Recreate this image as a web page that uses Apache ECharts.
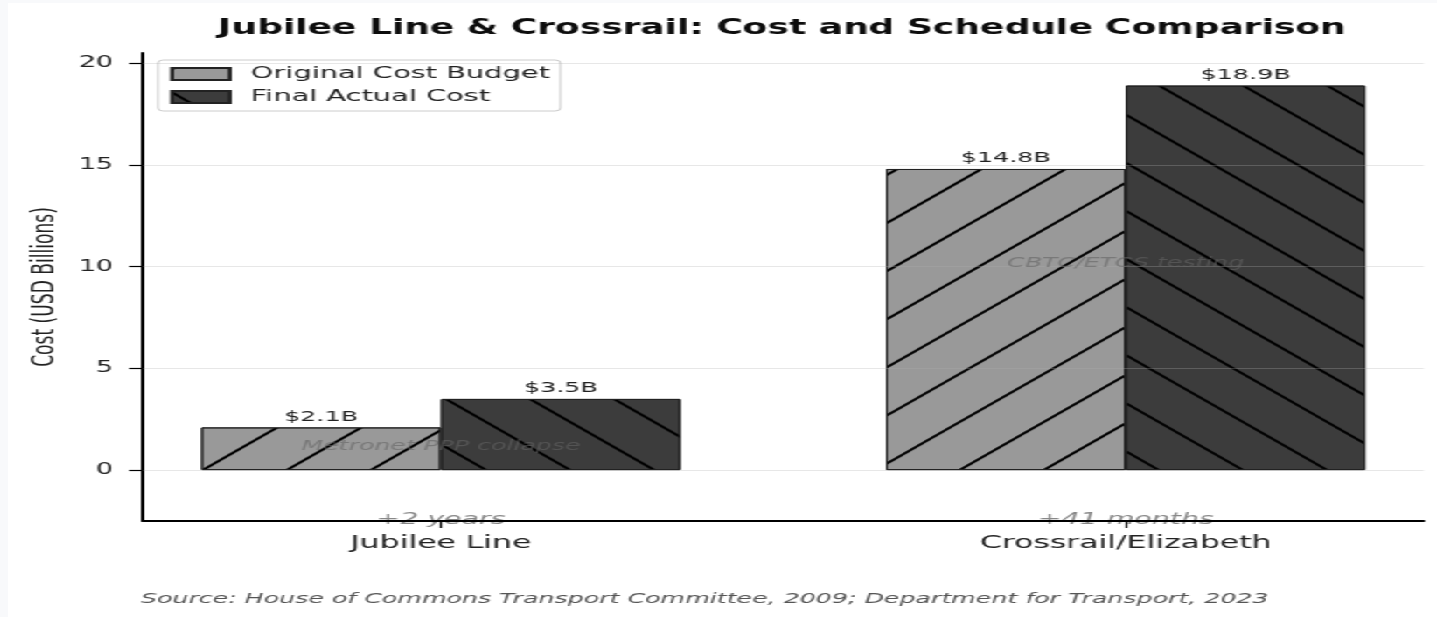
<!DOCTYPE html>
<html>
<head>
<meta charset="utf-8">
<script src="https://cdn.jsdelivr.net/npm/echarts@6/dist/echarts.min.js"></script>
<style>
  html, body { margin: 0; padding: 0; background: #f8f9fb; overflow: hidden; }
  #wrap { position: absolute; left: 8px; top: 3px; width: 817px; height: 614px;
          transform: scaleX(1.749); transform-origin: 0 0; background: #ffffff; }
  #chart { width: 817px; height: 614px; }
</style>
</head>
<body>
<div id="wrap"><div id="chart"></div></div>
<script>
// ---- data ----
const categories = ['Jubilee Line', 'Crossrail/Elizabeth'];
const originalBudget = [2.1, 14.8];
const finalCost = [3.5, 18.9];
const causeNotes = ['Metronet PPP collapse', 'CBTC/ETCS testing'];
const causeNoteY = [1.15, 10.15];
const delayNotes = ['+2 years', '+41 months'];
const delayNoteY = [-2.45, -2.45];
const yTicks = [0, 5, 10, 15, 20];
const seriesNames = ['Original Cost Budget', 'Final Actual Cost'];
const sourceText = 'Source: House of Commons Transport Committee, 2009; Department for Transport, 2023';
const titleText = 'Jubilee Line & Crossrail: Cost and Schedule Comparison';

// ---- layout ----
const W = 817, H = 614;
const FONT = '"DejaVu Sans", "Noto Sans", sans-serif';
const gridLeft = 77.2, gridRight = 7.6, gridTop = 50, gridBottom = 96;
const xMin = -0.435, xMax = 1.435;
const unitPx = (W - gridLeft - gridRight) / (xMax - xMin);
const barW = 0.35 * unitPx;

const hatch = (rot) => ({
  symbol: 'rect', symbolSize: 1, dashArrayX: [1, 0], dashArrayY: [1.6, 31.6],
  rotation: rot, color: '#000000'
});

const valueLabel = {
  show: true, position: 'top', distance: 3,
  fontFamily: FONT, fontSize: 14.5, color: '#222222',
  formatter: (p) => '$' + p.value[1].toFixed(1) + 'B'
};

const chart = echarts.init(document.getElementById('chart'), null, { renderer: 'canvas', devicePixelRatio: 1 });

chart.setOption({
  animation: false,
  backgroundColor: '#ffffff',
  textStyle: { fontFamily: FONT },
  grid: { left: gridLeft, right: gridRight, top: gridTop, bottom: gridBottom, containLabel: false },
  legend: {
    data: seriesNames,
    orient: 'vertical',
    left: 85.8, top: 57,
    padding: [5, 6, 5, 7],
    itemGap: 5, itemWidth: 33, itemHeight: 12,
    icon: 'rect',
    backgroundColor: 'rgba(255,255,255,0.8)',
    borderColor: '#cccccc', borderWidth: 1, borderRadius: 3,
    textStyle: { fontFamily: FONT, fontSize: 16.5, color: '#222222', lineHeight: 18, padding: [0, 0, 0, 7] }
  },
  xAxis: {
    type: 'value', min: xMin, max: xMax, z: 10,
    axisLine: { show: true, onZero: false, lineStyle: { color: '#000000', width: 2 } },
    axisTick: { show: true, customValues: [0, 1], length: 7, lineStyle: { color: '#000000', width: 1.2 } },
    axisLabel: {
      customValues: [0, 1], margin: 13, fontFamily: FONT, fontSize: 18, color: '#222222',
      formatter: (v) => categories[Math.round(v)]
    },
    splitLine: { show: false }
  },
  yAxis: {
    type: 'value', min: -2.5, max: 20.5,
    name: 'Cost (USD Billions)', nameLocation: 'middle', nameGap: 44,
    nameTextStyle: { fontFamily: FONT, fontSize: 17.1, color: '#222222' },
    axisLine: { show: true, onZero: false, lineStyle: { color: '#000000', width: 2 } },
    axisTick: { show: true, customValues: yTicks, length: 8, lineStyle: { color: '#000000', width: 1.2 } },
    axisLabel: { customValues: yTicks, margin: 17, fontFamily: FONT, fontSize: 15.5, color: '#222222' },
    splitLine: { show: false }
  },
  series: [
    {
      name: seriesNames[0], type: 'bar', barWidth: barW, barGap: '0%',
      data: categories.map((c, i) => [i, originalBudget[i]]),
      itemStyle: { color: '#999999', borderColor: '#222222', borderWidth: 1, decal: hatch(-Math.PI / 4) },
      label: valueLabel
    },
    {
      name: seriesNames[1], type: 'bar', barWidth: barW, barGap: '0%',
      data: categories.map((c, i) => [i, finalCost[i]]),
      itemStyle: { color: '#3c3c3c', borderColor: '#222222', borderWidth: 1, decal: hatch(Math.PI / 4) },
      label: valueLabel
    },
    {
      type: 'line', data: [], z: 4, silent: true,
      markLine: {
        silent: true, symbol: 'none', animation: false,
        label: { show: false },
        lineStyle: { color: 'rgba(176,176,176,0.3)', type: 'solid', width: 1 },
        data: yTicks.map((v) => ({ yAxis: v }))
      }
    },
    {
      type: 'scatter', z: 6, silent: true, symbolSize: 0.1,
      itemStyle: { color: 'transparent' },
      data: categories.map((c, i) => [i, causeNoteY[i], causeNotes[i]]),
      label: {
        show: true, position: 'inside', formatter: (p) => p.data[2],
        fontFamily: FONT, fontStyle: 'italic', fontSize: 14.4, color: 'rgba(100,100,100,0.75)'
      }
    },
    {
      type: 'scatter', z: 6, silent: true, symbolSize: 0.1,
      itemStyle: { color: 'transparent' },
      data: categories.map((c, i) => [i, delayNoteY[i], delayNotes[i]]),
      label: {
        show: true, position: 'inside', formatter: (p) => p.data[2],
        fontFamily: FONT, fontStyle: 'italic', fontSize: 16.3, color: 'rgba(80,80,80,0.85)'
      }
    }
  ],
  graphic: [
    {
      type: 'text', x: 442.5, y: 26, silent: true,
      style: { text: titleText, fill: '#0d0d0d', font: 'bold 20.6px ' + FONT,
               textAlign: 'center', textVerticalAlign: 'middle', align: 'center', verticalAlign: 'middle' }
    },
    {
      type: 'text', x: 76, y: 596, silent: true,
      style: { text: sourceText, fill: '#555555', font: 'italic 14.45px ' + FONT,
               textAlign: 'left', textVerticalAlign: 'middle', align: 'left', verticalAlign: 'middle' }
    }
  ]
});
</script>
</body>
</html>
